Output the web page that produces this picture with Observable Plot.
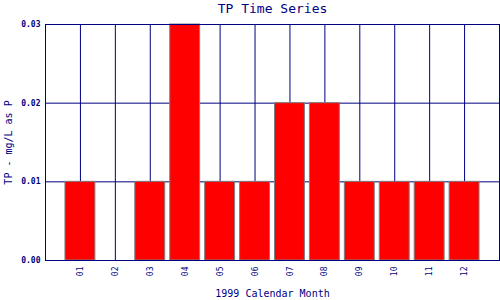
<!DOCTYPE html>
<html>
<head>
<meta charset="utf-8">
<script src="https://cdn.jsdelivr.net/npm/d3@7"></script>
<script src="https://cdn.jsdelivr.net/npm/@observablehq/plot@0.6"></script>
<style>
  body { margin: 0; background: #fff; }
</style>
</head>
<body>
<div id="chart"></div>
<script>
const months = ["01","02","03","04","05","06","07","08","09","10","11","12"];
const tp = [0.01, 0.00, 0.01, 0.03, 0.01, 0.01, 0.02, 0.02, 0.01, 0.01, 0.01, 0.01];
const yTicks = [0, 0.01, 0.02, 0.03];
const title = "TP Time Series";
const xLabel = "1999 Calendar Month";
const yLabel = "TP - mg/L as P";

const data = months.map((m, i) => ({m: i + 1, label: m, v: tp[i]}));
const navy = "#000080";

const chart = Plot.plot({
  width: 500,
  height: 300,
  marginLeft: 45,
  marginRight: 1,
  marginTop: 24,
  marginBottom: 40,
  style: {fontFamily: "'DejaVu Sans Mono', monospace", color: navy, background: "#fff"},
  x: {domain: [0, 13], ticks: d3.range(1, 13), tickFormat: d => months[d - 1], label: null},
  y: {domain: [0, 0.03], ticks: yTicks, tickFormat: d3.format(".2f"), label: null},
  marks: [
    Plot.ruleX(data, {x: "m", stroke: navy, strokeWidth: 1}),
    Plot.ruleY(yTicks, {y: d => d, stroke: navy, strokeWidth: 1}),
    Plot.rectY(data, {x1: d => d.m - 0.5, x2: d => d.m + 0.5, y: "v", insetLeft: 2.5, insetRight: 2.5, fill: "red", stroke: "#808080", strokeWidth: 1}),
    Plot.frame({stroke: navy, strokeWidth: 1}),
    Plot.axisY({ticks: yTicks, tickFormat: d3.format(".2f"), tickSize: 0, tickPadding: 5, fontSize: 8, fontWeight: "bold", fill: navy}),
    Plot.axisX({ticks: d3.range(1, 13), tickFormat: d => months[d - 1], tickSize: 0, tickPadding: 6, tickRotate: -90, fontSize: 8, fill: navy}),
    Plot.text([title], {frameAnchor: "top", lineAnchor: "middle", dy: -16, fontSize: 13, fill: navy}),
    Plot.text([xLabel], {frameAnchor: "bottom", lineAnchor: "middle", dy: 33, fontSize: 10, fill: navy}),
    Plot.text([yLabel], {frameAnchor: "left", textAnchor: "middle", lineAnchor: "middle", dx: -37, rotate: -90, fontSize: 10, fill: navy})
  ]
});
document.getElementById("chart").appendChild(chart);
</script>
</body>
</html>
